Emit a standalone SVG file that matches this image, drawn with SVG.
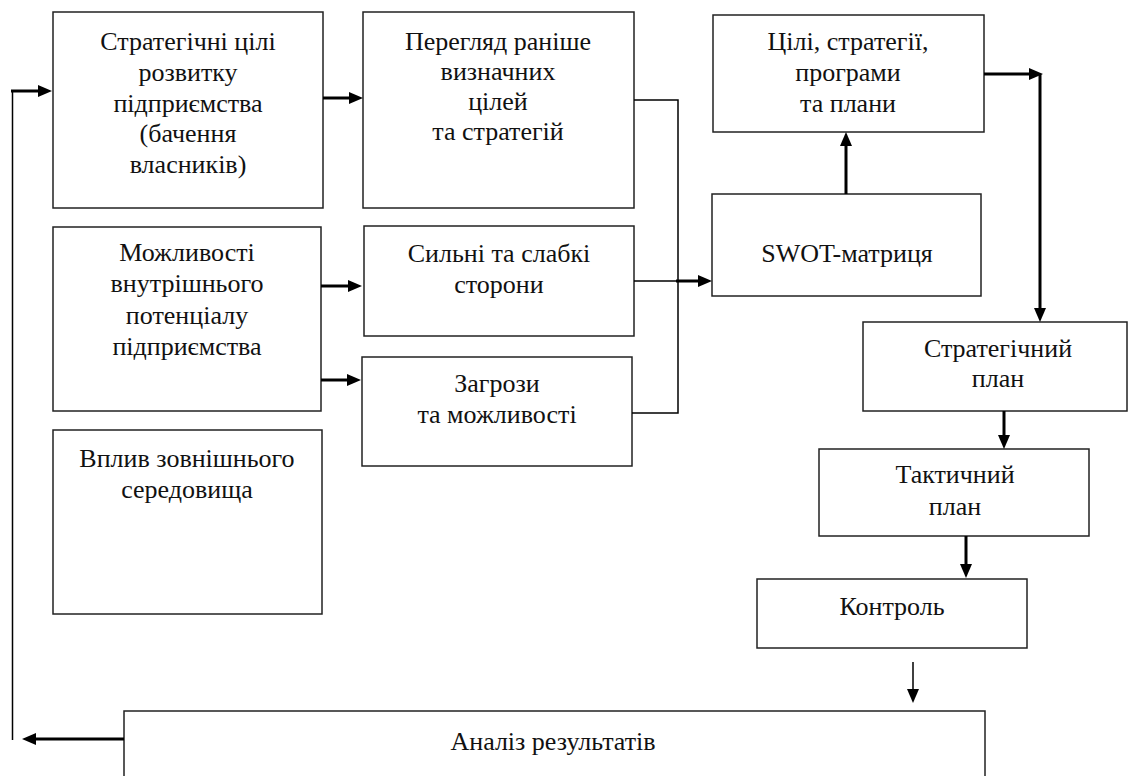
<svg xmlns="http://www.w3.org/2000/svg" width="1128" height="776" viewBox="0 0 1128 776">
<style>
  .box { fill: #fff; stroke: #222; stroke-width: 1.5; }
  text { font-family: "Liberation Serif", "Times New Roman", serif; font-size: 26px; fill: #111; text-anchor: middle; }
  .thick { stroke: #000; stroke-width: 3; fill: none; }
  .thin { stroke: #000; stroke-width: 1.5; fill: none; }
</style>
<defs>
  <marker id="ah" viewBox="0 0 14 12" refX="0" refY="6" markerWidth="14" markerHeight="12" markerUnits="userSpaceOnUse" orient="auto">
    <path d="M0,0 L14,6 L0,12 z" fill="#000"/>
  </marker>
</defs>
<rect width="1128" height="776" fill="#fff"/>

<g id="n-strategic-goals">
  <rect class="box" x="53" y="12" width="270" height="196"/>
  <text x="188" y="50">Стратегічні цілі</text>
  <text x="188" y="81">розвитку</text>
  <text x="188" y="112">підприємства</text>
  <text x="188" y="142">(бачення</text>
  <text x="188" y="173">власників)</text>
</g>
<g id="n-review">
  <rect class="box" x="363" y="12" width="271" height="196"/>
  <text x="498" y="50">Перегляд раніше</text>
  <text x="498" y="80">визначних</text>
  <text x="498" y="110">цілей</text>
  <text x="498" y="140">та стратегій</text>
</g>
<g id="n-goals-plans">
  <rect class="box" x="713" y="15" width="271" height="117"/>
  <text x="848" y="50">Цілі, стратегії,</text>
  <text x="848" y="81">програми</text>
  <text x="848" y="112">та плани</text>
</g>
<g id="n-swot">
  <rect class="box" x="712" y="194" width="269" height="102"/>
  <text x="847" y="262">SWOT-матриця</text>
</g>
<g id="n-potential">
  <rect class="box" x="53" y="227" width="268" height="184"/>
  <text x="187" y="261">Можливості</text>
  <text x="187" y="292">внутрішнього</text>
  <text x="187" y="324">потенціалу</text>
  <text x="187" y="355">підприємства</text>
</g>
<g id="n-strengths">
  <rect class="box" x="364" y="226" width="270" height="110"/>
  <text x="499" y="262">Сильні та слабкі</text>
  <text x="499" y="293">сторони</text>
</g>
<g id="n-threats">
  <rect class="box" x="362" y="357" width="270" height="109"/>
  <text x="497" y="392">Загрози</text>
  <text x="497" y="423">та можливості</text>
</g>
<g id="n-environment">
  <rect class="box" x="53" y="430" width="269" height="184"/>
  <text x="187" y="467">Вплив зовнішнього</text>
  <text x="187" y="498">середовища</text>
</g>
<g id="n-strategic-plan">
  <rect class="box" x="863" y="322" width="264" height="89"/>
  <text x="998" y="357">Стратегічний</text>
  <text x="998" y="387">план</text>
</g>
<g id="n-tactical-plan">
  <rect class="box" x="819" y="449" width="270" height="87"/>
  <text x="955" y="483">Тактичний</text>
  <text x="955" y="515">план</text>
</g>
<g id="n-control">
  <rect class="box" x="757" y="579" width="270" height="69"/>
  <text x="892" y="615">Контроль</text>
</g>
<g id="n-analysis">
  <rect class="box" x="124" y="711" width="861" height="80"/>
  <text x="553" y="750">Аналіз результатів</text>
</g>

<g id="connectors">
  <line class="thick" x1="124" y1="739" x2="36" y2="739" marker-end="url(#ah)"/>
  <line class="thin" x1="12.5" y1="740" x2="12.5" y2="90"/>
  <line class="thick" x1="11" y1="91" x2="38" y2="91" marker-end="url(#ah)"/>
  <line class="thick" x1="323" y1="98" x2="349" y2="98" marker-end="url(#ah)"/>
  <polyline class="thin" points="634,100 678,100 678,413 632,413"/>
  <line class="thin" x1="634" y1="281" x2="676" y2="281"/>
  <line class="thick" x1="676" y1="281" x2="698" y2="281" marker-end="url(#ah)"/>
  <line class="thick" x1="321" y1="286" x2="348" y2="286" marker-end="url(#ah)"/>
  <line class="thick" x1="321" y1="380" x2="347" y2="380" marker-end="url(#ah)"/>
  <line class="thick" x1="846" y1="194" x2="846" y2="146" marker-end="url(#ah)"/>
  <line class="thick" x1="984" y1="74" x2="1029" y2="74" marker-end="url(#ah)"/>
  <line class="thick" x1="1040" y1="74" x2="1040" y2="308" marker-end="url(#ah)"/>
  <line class="thick" x1="1004" y1="411" x2="1004" y2="435" marker-end="url(#ah)"/>
  <line class="thick" x1="966" y1="536" x2="966" y2="564" marker-end="url(#ah)"/>
  <line class="thin" x1="913" y1="662" x2="913" y2="689" marker-end="url(#ah)"/>
</g>
</svg>
